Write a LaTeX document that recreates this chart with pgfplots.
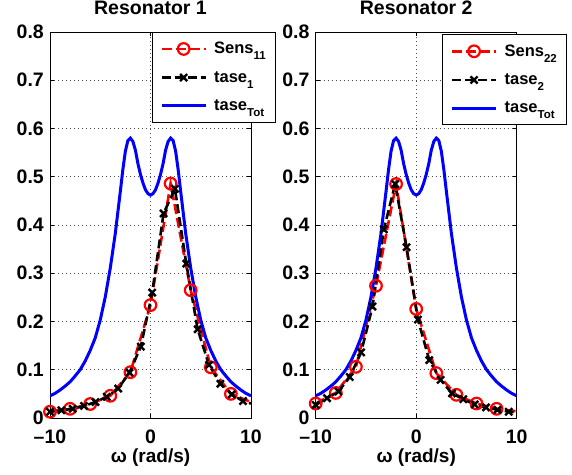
\documentclass[border=0pt]{standalone}
\usepackage{fontspec}
\setmainfont{Liberation Sans}
\usepackage{pgfplots}
\usepackage{pgfplotstable}
\pgfplotsset{compat=1.18}

\newcommand{\sub}[1]{\raisebox{-6pt}{\fontsize{11.5}{11.5}\selectfont #1}}

% Resonator 1
\pgfplotstableread{
w v
-10 0.013
-8 0.019
-6 0.029
-4 0.046
-2 0.095
0 0.234
2 0.486
4 0.265
6 0.105
8 0.050
}\sensAmarks
\pgfplotstableread{
w v
-10 0.013
-8 0.019
-6 0.029
-4 0.046
-2 0.095
0 0.234
2 0.486
4 0.265
6 0.105
8 0.050
10 0.033
}\sensAline
\pgfplotstableread{
w v
-10 0.013
-8.87 0.016
-7.74 0.019
-6.61 0.025
-5.48 0.033
-4.35 0.044
-3.22 0.061
-2.09 0.094
-0.96 0.148
0.17 0.260
1.30 0.424
2.43 0.475
3.56 0.320
4.69 0.184
5.82 0.110
6.95 0.071
8.08 0.049
9.21 0.035
}\taseAmarks
\pgfplotstableread{
w v
-10 0.013
-8.87 0.016
-7.74 0.019
-6.61 0.025
-5.48 0.033
-4.35 0.044
-3.22 0.061
-2.09 0.094
-0.96 0.148
0.17 0.260
1.30 0.424
2.43 0.475
3.56 0.320
4.69 0.184
5.82 0.110
6.95 0.071
8.08 0.049
9.21 0.035
10 0.030
}\taseAline

% Resonator 2
\pgfplotstableread{
w v
-10 0.030
-8 0.052
-6 0.106
-4 0.274
-2 0.485
0 0.226
2 0.093
4 0.048
6 0.030
8 0.019
}\sensBmarks
\pgfplotstableread{
w v
-10 0.030
-8 0.052
-6 0.106
-4 0.274
-2 0.485
0 0.226
2 0.093
4 0.048
6 0.030
8 0.019
10 0.014
}\sensBline
\pgfplotstableread{
w v
-10 0.027
-8.87 0.041
-7.74 0.055
-6.61 0.085
-5.48 0.136
-4.35 0.231
-3.22 0.391
-2.09 0.485
-0.96 0.354
0.17 0.204
1.30 0.120
2.43 0.079
3.56 0.051
4.69 0.039
5.82 0.028
6.95 0.022
8.08 0.017
9.21 0.013
}\taseBmarks
\pgfplotstableread{
w v
-10 0.027
-8.87 0.041
-7.74 0.055
-6.61 0.085
-5.48 0.136
-4.35 0.231
-3.22 0.391
-2.09 0.485
-0.96 0.354
0.17 0.204
1.30 0.120
2.43 0.079
3.56 0.051
4.69 0.039
5.82 0.028
6.95 0.022
8.08 0.017
9.21 0.013
10 0.012
}\taseBline

% Total
\pgfplotstableread{
w v
-10 0.046
-9.5 0.051
-9 0.058
-8.5 0.066
-8 0.075
-7.5 0.087
-7 0.100
-6.5 0.118
-6 0.140
-5.5 0.166
-5 0.203
-4.5 0.251
-4 0.311
-3.5 0.383
-3 0.470
-2.75 0.515
-2.5 0.553
-2.25 0.575
-2 0.580
-1.75 0.573
-1.5 0.555
-1.25 0.527
-1 0.505
-0.75 0.487
-0.5 0.473
-0.25 0.465
0 0.462
0.25 0.465
0.5 0.473
0.75 0.487
1 0.505
1.25 0.527
1.5 0.555
1.75 0.573
2 0.580
2.25 0.575
2.5 0.553
2.75 0.515
3 0.470
3.5 0.383
4 0.311
4.5 0.251
5 0.203
5.5 0.166
6 0.140
6.5 0.118
7 0.100
7.5 0.087
8 0.075
8.5 0.066
9 0.058
9.5 0.051
10 0.046
}\total

\pgfplotsset{
  resax/.style={
    scale only axis, width=201pt, height=386pt,
    anchor=south west,
    xmin=-10, xmax=10, ymin=0, ymax=0.8,
    xtick={-10,0,10}, xticklabels={–10,0,10},
    ytick={0,0.1,0.2,0.3,0.4,0.5,0.6,0.7,0.8},
    yticklabels={0,0.1,0.2,0.3,0.4,0.5,0.6,0.7,0.8},
    tick label style={font=\bfseries\fontsize{19.5}{19.5}\selectfont, inner sep=0pt},
    xticklabel style={anchor=base, yshift=-25pt},
    yticklabel style={anchor=east, xshift=-6pt},
    grid=major,
    major grid style={black!70, line width=0.6pt, dash pattern=on 1pt off 3pt},
    tick align=inside, major tick length=4pt,
    tick style={black, line width=0.6pt},
    axis line style={black, line width=0.9pt},
    title style={at={(axis description cs:0.5,1)}, anchor=base, yshift=11pt, inner sep=0pt,
      font=\bfseries\fontsize{19.5}{19.5}\selectfont},
    xlabel style={at={(axis description cs:0.5,0)}, anchor=base, yshift=-44pt, inner sep=0pt,
      font=\bfseries\fontsize{19}{19}\selectfont},
    xlabel={ω (rad/s)},
    legend style={anchor=north west, draw=black, line width=0.9pt, fill=white,
      font=\bfseries\fontsize{16.5}{16.5}\selectfont,
      inner xsep=8pt, inner ysep=8pt, row sep=12pt, column sep=5pt,
      cells={anchor=west}},
    legend image code/.code={\draw[mark repeat=2,mark phase=2,##1] plot coordinates {(0pt,0pt) (22pt,0pt) (44pt,0pt)};},
  },
  sensline/.style={red, line width=2.6pt, dash pattern=on 10pt off 4pt},
  sensmark/.style={red, only marks, mark=o, mark size=5.8pt, mark options={solid, line width=2.2pt}},
  taseline/.style={black, line width=2.6pt, dash pattern=on 9pt off 4pt},
  tasemark/.style={black, only marks, mark=x, mark size=5pt, mark options={solid, line width=2.4pt}},
  totline/.style={blue, line width=3pt},
}

\begin{document}
\begin{tikzpicture}
\useasboundingbox (0,0) rectangle (572pt,474pt);
\begin{axis}[resax, at={(50pt,56pt)}, title={Resonator 1},
  legend style={at={(0.506,1)}}]
\addplot[sensline, forget plot] table[x=w,y=v] {\sensAline};
\addplot[sensmark, forget plot] table[x=w,y=v] {\sensAmarks};
\addplot[taseline, forget plot] table[x=w,y=v] {\taseAline};
\addplot[tasemark, forget plot] table[x=w,y=v] {\taseAmarks};
\addplot[totline, forget plot] table[x=w,y=v] {\total};
\addlegendimage{sensline, mark=o, mark size=5.8pt, mark options={solid, line width=2.2pt}}
\addlegendentry{Sens\sub{11}}
\addlegendimage{taseline, mark=x, mark size=5pt, mark options={solid, line width=2.4pt}}
\addlegendentry{tase\sub{1}}
\addlegendimage{totline}
\addlegendentry{tase\sub{Tot}}
\end{axis}
\begin{axis}[resax, at={(315.7pt,56pt)}, title={Resonator 2},
  legend style={at={(0.629,0.994)}}]
\addplot[sensline, forget plot] table[x=w,y=v] {\sensBline};
\addplot[sensmark, forget plot] table[x=w,y=v] {\sensBmarks};
\addplot[taseline, forget plot] table[x=w,y=v] {\taseBline};
\addplot[tasemark, forget plot] table[x=w,y=v] {\taseBmarks};
\addplot[totline, forget plot] table[x=w,y=v] {\total};
\addlegendimage{sensline, mark=o, mark size=5.8pt, mark options={solid, line width=2.2pt}}
\addlegendentry{Sens\sub{22}}
\addlegendimage{taseline, mark=x, mark size=5pt, mark options={solid, line width=2.4pt}}
\addlegendentry{tase\sub{2}}
\addlegendimage{totline}
\addlegendentry{tase\sub{Tot}}
\end{axis}
\end{tikzpicture}
\end{document}
